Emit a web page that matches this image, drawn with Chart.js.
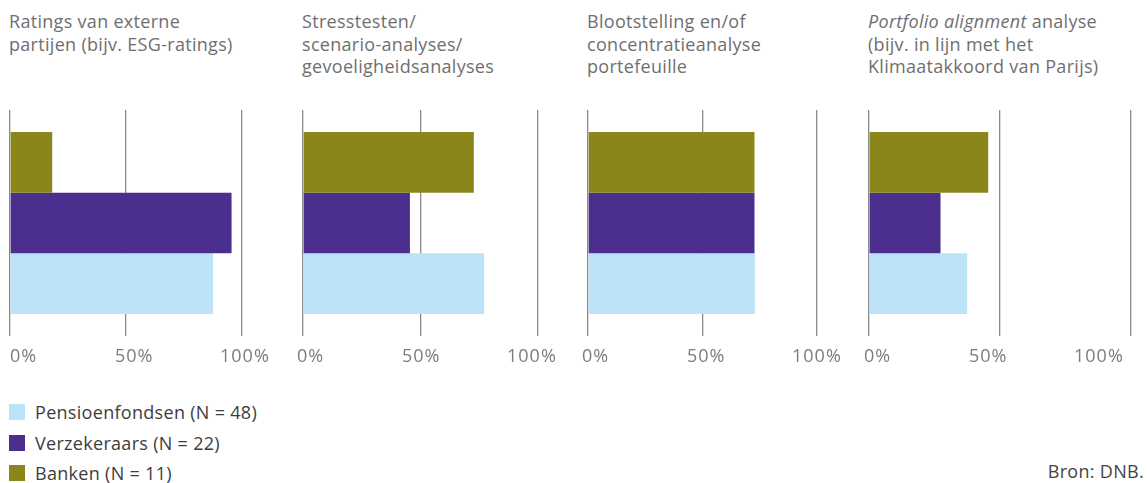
<!DOCTYPE html>
<html>
<head>
<meta charset="utf-8">
<script src="https://cdn.jsdelivr.net/npm/chart.js@4/dist/chart.umd.min.js"></script>
<style>
  html, body { margin: 0; padding: 0; background: #fff; }
  body { width: 1148px; height: 483px; overflow: hidden; position: relative; font-family: "Open Sans", "Noto Sans", sans-serif; }
  .title { position: absolute; top: 10px; font-size: 18px; letter-spacing: 0.3px; line-height: 22.5px; color: #6f6f6f; white-space: nowrap; }
  canvas { position: absolute; top: 100px; }
  .legend { position: absolute; left: 9px; top: 397px; font-size: 18px; letter-spacing: 0.3px; color: #3d3d3d; }
  .legend .row { height: 30.5px; display: flex; align-items: center; }
  .legend .sw { width: 16px; height: 16px; margin-right: 10px; }
  .source { position: absolute; right: 4px; top: 459px; font-size: 18px; letter-spacing: 0.3px; color: #444; }
</style>
</head>
<body>
<div id="titles"></div>
<div id="charts"></div>
<div class="legend" id="legend"></div>
<div class="source">Bron: DNB.</div>
<script>
// Panel titles (one list of lines per panel)
const panelTitles = [
  ["Ratings van externe", "partijen (bijv. ESG-ratings)"],
  ["Stresstesten/", "scenario-analyses/", "gevoeligheidsanalyses"],
  ["Blootstelling en/of", "concentratieanalyse", "portefeuille"],
  ["Portfolio alignment analyse", "(bijv. in lijn met het", "Klimaatakkoord van Parijs)"]
];
const italicPhrase = [null, null, null, "Portfolio alignment"];

// Share of institutions per method (%)
const pensioenfondsen = [87.5, 77.1, 72.9, 37.5];
const verzekeraars    = [95.5, 45.5, 72.7, 27.3];
const banken          = [18.2, 72.7, 72.7, 45.5];

const seriesNames  = ["Pensioenfondsen (N = 48)", "Verzekeraars (N = 22)", "Banken (N = 11)"];
const seriesColors = ["#bde3f8", "#4b2e8e", "#8b861a"];

const tickLabels = ["0%", "50%", "100%"];
const tickStep = 50;

// Layout of the four panels: x of the 0% and 100% gridlines, and where tick texts start
const panelZero    = [10, 303, 588, 869];
const panelHundred = [242, 538, 817, 1131];
const labelStart   = [10, 297, 582, 864];
const labelStep    = 105;

// Titles
const titlesEl = document.getElementById("titles");
panelTitles.forEach((lines, i) => {
  const d = document.createElement("div");
  d.className = "title";
  d.style.left = (panelZero[i] - 1) + "px";
  lines.forEach((line, j) => {
    const ln = document.createElement("div");
    const it = italicPhrase[i];
    if (j === 0 && it && line.startsWith(it)) {
      const em = document.createElement("i");
      em.textContent = it;
      ln.appendChild(em);
      ln.appendChild(document.createTextNode(line.slice(it.length)));
    } else {
      ln.textContent = line;
    }
    d.appendChild(ln);
  });
  titlesEl.appendChild(d);
});

// Legend
const legendEl = document.getElementById("legend");
seriesNames.forEach((name, k) => {
  const r = document.createElement("div");
  r.className = "row";
  const sw = document.createElement("div");
  sw.className = "sw";
  sw.style.background = seriesColors[k];
  r.appendChild(sw);
  r.appendChild(document.createTextNode(name));
  legendEl.appendChild(r);
});

// Tick texts below each panel
const tickTextPlugin = {
  id: "tickText",
  afterDraw(chart, args, opts) {
    const ctx = chart.ctx;
    const sc = chart.scales.x;
    ctx.save();
    ctx.font = '18px "Open Sans", "Noto Sans", sans-serif';
    ctx.letterSpacing = "1px";
    ctx.fillStyle = "#7c7c7c";
    ctx.textAlign = "left";
    ctx.textBaseline = "middle";
    sc.ticks.forEach((t, k) => {
      ctx.fillText(tickLabels[k], opts.start + k * labelStep, chart.chartArea.bottom + 21);
    });
    ctx.restore();
  }
};

const chartsEl = document.getElementById("charts");
const padL = 10, padR = 60, padT = 10, padB = 44, areaH = 226;

panelTitles.forEach((_, i) => {
  const w = panelHundred[i] - panelZero[i];
  const cv = document.createElement("canvas");
  const left = panelZero[i] - padL;
  cv.width = w + padL + padR;
  cv.height = areaH + padT + padB;
  cv.style.left = left + "px";
  cv.style.width = cv.width + "px";
  cv.style.height = cv.height + "px";
  chartsEl.appendChild(cv);

  new Chart(cv.getContext("2d"), {
    type: "bar",
    data: {
      labels: [panelTitles[i].join(" ")],
      datasets: [
        { label: seriesNames[2], data: [banken[i]], backgroundColor: seriesColors[2] },
        { label: seriesNames[1], data: [verzekeraars[i]], backgroundColor: seriesColors[1] },
        { label: seriesNames[0], data: [pensioenfondsen[i]], backgroundColor: seriesColors[0] }
      ]
    },
    options: {
      indexAxis: "y",
      responsive: false,
      animation: false,
      events: [],
      layout: { padding: { left: padL, right: padR, top: padT, bottom: padB } },
      datasets: { bar: { categoryPercentage: 0.805, barPercentage: 1, borderWidth: 0 } },
      plugins: {
        legend: { display: false },
        tooltip: { enabled: false },
        tickText: { start: labelStart[i] - left }
      },
      scales: {
        x: {
          min: 0, max: 100,
          ticks: { display: false, stepSize: tickStep },
          grid: { color: "#8a8a8a", lineWidth: 1.3, drawTicks: false },
          border: { display: false }
        },
        y: { display: false }
      }
    },
    plugins: [tickTextPlugin]
  });
});
</script>
</body>
</html>
